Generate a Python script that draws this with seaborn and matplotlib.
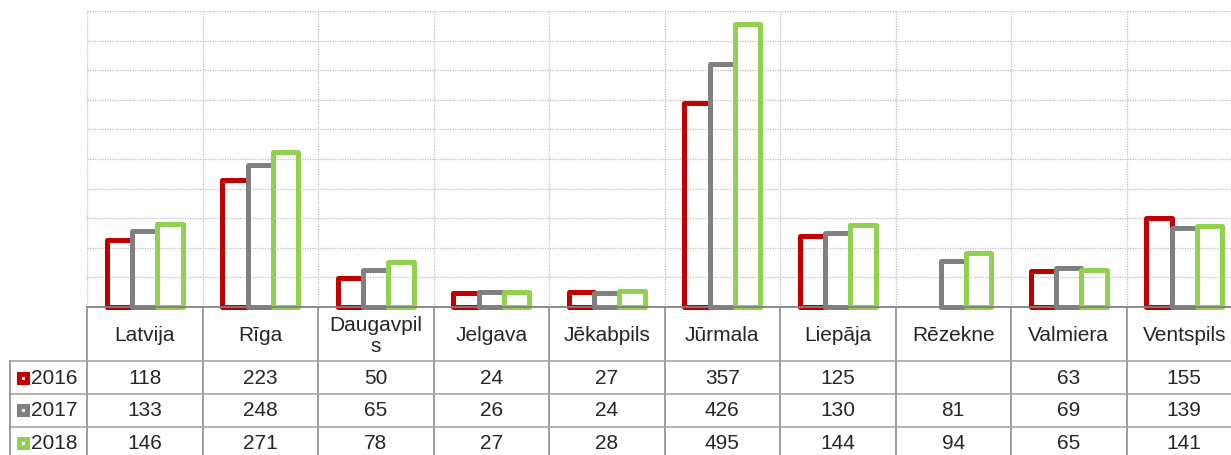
import numpy as np
import pandas as pd
import seaborn as sns
import matplotlib.pyplot as plt
from matplotlib import transforms

# data
cities = ['Latvija', 'Rīga', 'Daugavpils', 'Jelgava', 'Jēkabpils',
          'Jūrmala', 'Liepāja', 'Rēzekne', 'Valmiera', 'Ventspils']
city_labels = ['Latvija', 'Rīga', 'Daugavpil\ns', 'Jelgava', 'Jēkabpils',
               'Jūrmala', 'Liepāja', 'Rēzekne', 'Valmiera', 'Ventspils']
years = ['2016', '2017', '2018']
v2016 = [118, 223, 50, 24, 27, 357, 125, np.nan, 63, 155]
v2017 = [133, 248, 65, 26, 24, 426, 130, 81, 69, 139]
v2018 = [146, 271, 78, 27, 28, 495, 144, 94, 65, 141]
colors = ['#C00000', '#808080', '#92D050']

df = pd.DataFrame({
    'city': cities * 3,
    'year': np.repeat(years, len(cities)),
    'value': v2016 + v2017 + v2018,
})

sns.set_style('white')
plt.rcParams['font.family'] = ['Liberation Sans', 'DejaVu Sans']

W, H = 1231, 456
fig = plt.figure(figsize=(W / 100, H / 100), dpi=100)

# plot area runs past the right edge, like the cropped original
ax = fig.add_axes([87 / W, (H - 308) / H, (1242 - 87) / W, (308 - 12) / H])
sns.barplot(data=df, x='city', y='value', hue='year', order=cities,
            hue_order=years, palette=colors, fill=False, linewidth=3.6,
            width=0.66, gap=0, errorbar=None, legend=False, ax=ax)
for p in ax.patches:
    p.set_clip_on(False)
    p.set_joinstyle('round')

ax.set_xlim(-0.5, 9.5)
ax.set_ylim(0, 518)
ax.set_yticks(np.linspace(0, 518, 11))
ax.set_xticks(np.arange(-0.5, 10, 1))
ax.set_xticklabels([])
ax.set_yticklabels([])
ax.tick_params(length=0)
ax.set_xlabel('')
ax.set_ylabel('')
ax.grid(True, ls=(0, (1, 1)), color='#BFBFBF', lw=0.9)
ax.set_axisbelow(True)
for s in ['left', 'top', 'right']:
    ax.spines[s].set_visible(False)
ax.spines['bottom'].set_color('#808080')
ax.spines['bottom'].set_linewidth(1.3)

# data table below the chart, pixel coords on y
tab = fig.add_axes([0, 0, 1, 1])
tab.set_xlim(0, W)
tab.set_ylim(H, 0)
tab.axis('off')
tab.patch.set_alpha(0)
blend = transforms.blended_transform_factory(ax.transData, tab.transData)

for b in np.arange(-0.5, 10, 1):
    tab.plot([b, b], [308, H], color='#8C8C8C', lw=1.2, transform=blend, clip_on=False)
for y in [362, 395, 428]:
    tab.plot([10, W], [y, y], color='#A6A6A6', lw=1.2)
tab.plot([10, 10], [362, H], color='#8C8C8C', lw=1.2)

for i, lab in enumerate(city_labels):
    tab.text(i, 336, lab, transform=blend, ha='center', va='center',
             fontsize=15, linespacing=1.15)

row_y = [379, 411, 444]
for yr, vals, c, y in zip(years, [v2016, v2017, v2018], colors, row_y):
    tab.plot([23], [y], marker='s', ms=5.5, mew=3.6, mec=c, mfc='white')
    tab.text(31, y, yr, ha='left', va='center', fontsize=15)
    for i, v in enumerate(vals):
        if not np.isnan(v):
            tab.text(i, y, str(int(v)), transform=blend, ha='center',
                     va='center', fontsize=15)

fig.savefig('out.png', dpi=100)
